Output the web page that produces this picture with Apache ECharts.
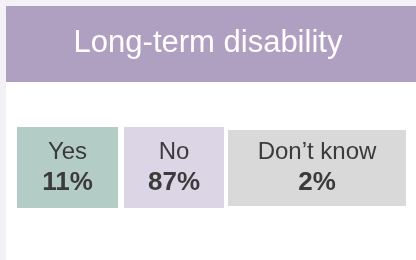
<!DOCTYPE html>
<html>
<head>
<meta charset="utf-8">
<script src="https://cdn.jsdelivr.net/npm/echarts@6/dist/echarts.min.js"></script>
<style>
  html, body { margin: 0; padding: 0; background: #f3f1f6; }
  #chart { width: 416px; height: 260px; }
</style>
</head>
<body>
<div id="chart"></div>
<script>
  // survey answers
  var categories = ['Yes', 'No', 'Don\u2019t know']
  var values = [11, 87, 2]
  var titleText = 'Long-term disability'

  // tile colours + layout (x, y, w, h)
  var tileColors = ['#b4ccc6', '#dcd5e5', '#d9d9d9']
  var tiles = [
    [17, 127, 101, 81],
    [124, 127, 100, 81],
    [228, 130, 178, 76]
  ]

  var chart = echarts.init(document.getElementById('chart'))

  var option = {
    backgroundColor: 'transparent',
    animation: false,
    title: {
      text: titleText,
      left: 'center',
      top: 28,
      padding: 0,
      textStyle: {
        color: '#ffffff',
        fontFamily: 'Liberation Sans',
        fontWeight: 'normal',
        fontSize: 31
      }
    },
    graphic: [
      { type: 'rect', z: -10, shape: { x: 6, y: 82, width: 410, height: 178 }, style: { fill: '#ffffff' } },
      { type: 'rect', z: -10, shape: { x: 6, y: 6, width: 410, height: 76 }, style: { fill: '#af9fc1' } }
    ],
    series: [{
      type: 'custom',
      coordinateSystem: 'none',
      data: values,
      renderItem: function (params, api) {
        var i = params.dataIndex
        var t = tiles[i]
        var cx = t[0] + t[2] / 2
        return {
          type: 'group',
          children: [
            { type: 'rect', shape: { x: t[0], y: t[1], width: t[2], height: t[3] }, style: { fill: tileColors[i] } },
            { type: 'text', style: { text: categories[i], x: cx, y: 152, align: 'center', verticalAlign: 'middle',
              fill: '#3b3b3b', font: 'normal 24px "Liberation Sans"' } },
            { type: 'text', style: { text: api.value(0) + '%', x: cx, y: 183, align: 'center', verticalAlign: 'middle',
              fill: '#3b3b3b', font: 'bold 26px "Liberation Sans"' } }
          ]
        }
      }
    }]
  }

  chart.setOption(option)
</script>
</body>
</html>
